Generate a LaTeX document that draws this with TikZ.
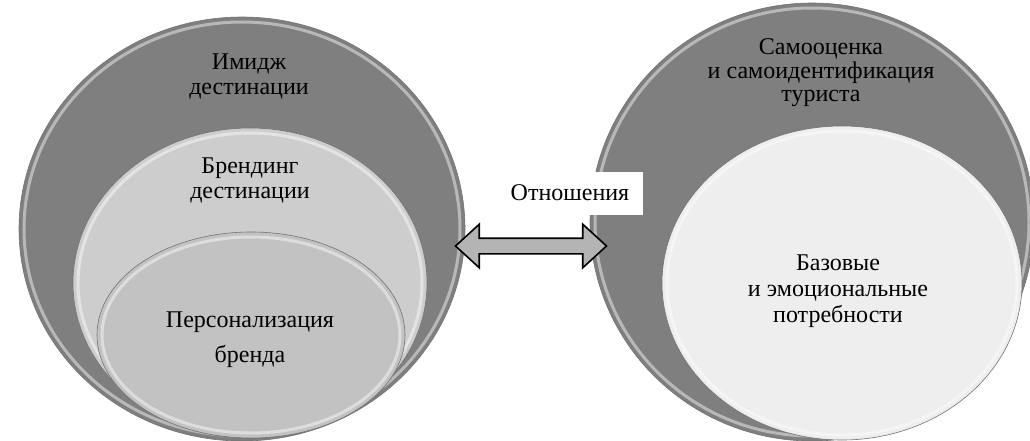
\documentclass[tikz,border=0pt]{standalone}
\usepackage{fontspec}
\setmainfont{Liberation Serif}
\usetikzlibrary{positioning, shapes.geometric, shapes.arrows}
\definecolor{outergray}{HTML}{7F7F7F}
\definecolor{midgray}{HTML}{CDCDCD}
\definecolor{innergray}{HTML}{C2C2C2}
\definecolor{palegray}{HTML}{EEEEEE}
\definecolor{arrowgray}{HTML}{B4B4B4}
\tikzset{
  every picture/.style={line width=0.8pt},
  disc/.style={ellipse, inner sep=0pt, draw=black!55, line width=0.6pt},
  rim/.style={ellipse, inner sep=0pt, draw=white, draw opacity=0.45, line width=3pt},
  lbl/.style={align=center, inner sep=0pt, font=\fontsize{24}{25}\selectfont},
  dblarrow/.style={double arrow, draw=black, line width=1.6pt, fill=arrowgray, inner xsep=0pt, inner ysep=7pt,
    minimum height=151pt, double arrow head extend=14pt, double arrow tip angle=85},
  relbox/.style={rectangle, fill=white, inner sep=0pt, minimum width=146pt, minimum height=43pt,
    font=\fontsize{24}{25}\selectfont}
}
\begin{document}
\begin{tikzpicture}[x=1pt, y=-1pt]
    \useasboundingbox (0,0) rectangle (1030,441);
    \begin{scope}
      \node [disc, fill=outergray, minimum width=446pt, minimum height=424pt] (imidzh) at (242,229) {};
      \node [rim, minimum width=436pt, minimum height=414pt] at (imidzh.center) {};
      \node [disc, fill=midgray, minimum width=354pt, minimum height=310pt] (brend) at (250,283) {};
      \node [rim, minimum width=344pt, minimum height=300pt] at (brend.center) {};
      \node [disc, fill=innergray, minimum width=308pt, minimum height=206pt] (pers) at (251,335) {};
      \node [rim, minimum width=298pt, minimum height=196pt] at (pers.center) {};

      \node [lbl] (imidzhtext) at (249,76) {Имидж\\дестинации};
      \node [lbl] (brendtext) at (250,180) {Брендинг\\дестинации};
      \node [lbl, font=\fontsize{24}{35}\selectfont] (perstext) at (250,340) {Персонализация\\бренда};
    \end{scope}
    \begin{scope}
      \node [disc, fill=outergray, minimum width=444pt, minimum height=438pt] (samo) at (812,222) {};
      \node [rim, minimum width=434pt, minimum height=428pt] at (samo.center) {};
      \node [disc, fill=palegray, minimum width=360pt, minimum height=314pt] (baza) at (842,283) {};
      \node [rim, minimum width=350pt, minimum height=304pt] at (baza.center) {};

      \node [lbl, font=\fontsize{24}{23.5}\selectfont] (samotext) at (821,73) {Самооценка\\и самоидентификация\\туриста};
      \node [lbl, font=\fontsize{24}{26}\selectfont] (bazatext) at (838,291) {Базовые\\и эмоциональные\\потребности};
    \end{scope}
    \node [relbox] (rel) at (570,193) {Отношения};
    \node [dblarrow] (relarrow) at (531,246) {};
  \end{tikzpicture}
\end{document}
